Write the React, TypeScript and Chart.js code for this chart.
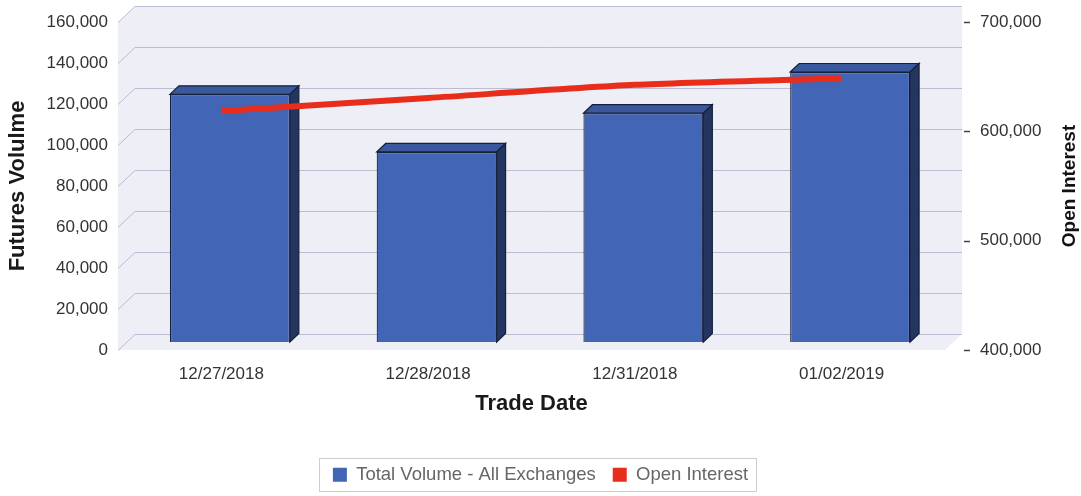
import React, { useEffect, useRef } from 'react';
import { Chart, registerables } from 'chart.js';

Chart.register(...registerables);

const categories = ['12/27/2018', '12/28/2018', '12/31/2018', '01/02/2019'];
const totalVolume = [120800, 92700, 111600, 131700];
const openInterest = [618500, 630500, 642500, 648500];
const volumeAxis = { min: 0, max: 160000, step: 20000 };
const oiAxis = { min: 400000, max: 700000, step: 100000 };

const FONT = "'Liberation Sans', Arial, Helvetica, sans-serif";
const BAR_FRONT = 'rgb(66, 101, 182)';
const BAR_TOP = 'rgb(58, 88, 158)';
const BAR_SIDE = 'rgb(36, 54, 96)';
const BAR_EDGE = 'rgb(22, 32, 58)';
const RED = 'rgb(232, 46, 26)';
const WALL = 'rgb(237, 238, 246)';
const GRID = 'rgb(188, 188, 212)';

// 3D geometry (pixels)
const DEPTH_X = 17;
const DEPTH_Y = -16;
const BAR_SHIFT_X = 8.5;
const BAR_SHIFT_Y = -8;
const BAR_DEPTH_X = 9;
const BAR_DEPTH_Y = -8.5;

const threeD = {
  id: 'threeD',
  beforeDatasetsDraw(chart: any) {
    const { ctx, chartArea } = chart;
    const L = chartArea.left, R = chartArea.right, T = chartArea.top, B = chartArea.bottom;
    ctx.save();
    ctx.beginPath();
    ctx.moveTo(L, B);
    ctx.lineTo(L, T);
    ctx.lineTo(L + DEPTH_X, T + DEPTH_Y);
    ctx.lineTo(R + DEPTH_X, T + DEPTH_Y);
    ctx.lineTo(R + DEPTH_X, B + DEPTH_Y);
    ctx.lineTo(R, B);
    ctx.closePath();
    ctx.fillStyle = WALL;
    ctx.fill();
    const y = chart.scales.y;
    ctx.strokeStyle = GRID;
    ctx.lineWidth = 1;
    y.ticks.forEach((t: any) => {
      const yy = Math.round(y.getPixelForValue(t.value)) + 0.5;
      ctx.beginPath();
      ctx.moveTo(L, yy);
      ctx.lineTo(L + DEPTH_X, yy + DEPTH_Y);
      ctx.lineTo(R + DEPTH_X, yy + DEPTH_Y);
      ctx.stroke();
    });
    ctx.restore();
  },
  beforeDatasetDraw(chart: any, args: any) {
    if (args.index !== 0) return;
    chart.ctx.save();
    chart.ctx.translate(BAR_SHIFT_X, BAR_SHIFT_Y);
  },
  afterDatasetDraw(chart: any, args: any) {
    if (args.index !== 0) return;
    const ctx = chart.ctx;
    args.meta.data.forEach((el: any) => {
      const { x, y, base, width } = el.getProps(['x', 'y', 'base', 'width'], true);
      const l = x - width / 2;
      const r = x + width / 2;
      ctx.lineWidth = 1.2;
      ctx.strokeStyle = BAR_EDGE;
      // top face
      ctx.beginPath();
      ctx.moveTo(l, y);
      ctx.lineTo(l + BAR_DEPTH_X, y + BAR_DEPTH_Y);
      ctx.lineTo(r + BAR_DEPTH_X, y + BAR_DEPTH_Y);
      ctx.lineTo(r, y);
      ctx.closePath();
      ctx.fillStyle = BAR_TOP;
      ctx.fill();
      ctx.stroke();
      // right face
      ctx.beginPath();
      ctx.moveTo(r, y);
      ctx.lineTo(r + BAR_DEPTH_X, y + BAR_DEPTH_Y);
      ctx.lineTo(r + BAR_DEPTH_X, base + BAR_DEPTH_Y);
      ctx.lineTo(r, base);
      ctx.closePath();
      ctx.fillStyle = BAR_SIDE;
      ctx.fill();
      ctx.stroke();
    });
    ctx.restore();
  },
  afterDraw(chart: any) {
    const { ctx, chartArea } = chart;
    const y1 = chart.scales.y1;
    ctx.save();
    // right axis tick dashes
    ctx.strokeStyle = '#444';
    ctx.lineWidth = 1.5;
    y1.ticks.forEach((t: any) => {
      const yy = Math.round(y1.getPixelForValue(t.value)) + 0.5;
      ctx.beginPath();
      ctx.moveTo(chartArea.right + DEPTH_X + 2, yy);
      ctx.lineTo(chartArea.right + DEPTH_X + 8, yy);
      ctx.stroke();
    });
    // right axis title (reads bottom to top)
    ctx.translate(1070, (chartArea.top + chartArea.bottom) / 2);
    ctx.rotate(-Math.PI / 2);
    ctx.fillStyle = '#111';
    ctx.font = `bold 19px ${FONT}`;
    ctx.textAlign = 'center';
    ctx.textBaseline = 'middle';
    ctx.fillText('Open Interest', 0, 0);
    ctx.restore();
    // legend frame
    const lg = chart.legend;
    const hb = lg && lg.legendHitBoxes;
    if (hb && hb.length) {
      const last = hb[hb.length - 1];
      const x0 = hb[0].left - 14;
      const x1 = last.left + last.width + 8;
      const top = hb[0].top - 8;
      const bottom = hb[0].top + hb[0].height + 6;
      ctx.save();
      ctx.setLineDash([1, 1]);
      ctx.strokeStyle = '#9a9a9a';
      ctx.lineWidth = 1;
      ctx.strokeRect(Math.round(x0) + 0.5, Math.round(top) + 0.5, Math.round(x1 - x0), Math.round(bottom - top));
      ctx.restore();
    }
  },
};

export default function App() {
  const ref = useRef<HTMLCanvasElement | null>(null);
  useEffect(() => {
    if (!ref.current) return;
    const tickFont = { family: FONT, size: 17 };
    const chart = new Chart(ref.current, {
      type: 'bar',
      data: {
        labels: categories,
        datasets: [
          {
            type: 'bar',
            label: 'Total Volume - All Exchanges',
            data: totalVolume,
            yAxisID: 'y',
            backgroundColor: BAR_FRONT,
            borderColor: BAR_EDGE,
            borderWidth: 1.2,
            barPercentage: 0.58,
            categoryPercentage: 1,
            order: 2,
            clip: false,
          } as any,
          {
            type: 'line',
            label: 'Open Interest',
            data: openInterest,
            yAxisID: 'y1',
            borderColor: RED,
            backgroundColor: RED,
            borderWidth: 6,
            pointRadius: 0,
            tension: 0.25,
            borderCapStyle: 'butt',
            order: 1,
            clip: false,
          } as any,
        ],
      },
      options: {
        responsive: false,
        animation: false,
        devicePixelRatio: 1,
        layout: { padding: { top: 22, bottom: 2, left: 0, right: 0 } },
        scales: {
          x: {
            grid: { display: false, drawTicks: false },
            border: { display: false },
            ticks: { font: tickFont, color: '#333', padding: 14 },
            title: {
              display: true,
              text: 'Trade Date',
              color: '#1a1a1a',
              font: { family: FONT, size: 22, weight: 'bold' },
              padding: { top: 0, bottom: 31 },
            },
            afterFit: (s: any) => { s.height = 98.5; },
          },
          y: {
            position: 'left',
            min: volumeAxis.min,
            max: volumeAxis.max,
            grid: { display: false, drawTicks: false },
            border: { display: false },
            ticks: {
              stepSize: volumeAxis.step,
              font: tickFont,
              color: '#333',
              padding: 10,
              callback: (v: any) => Number(v).toLocaleString('en-US'),
            },
            title: {
              display: true,
              text: 'Futures Volulme',
              color: '#1a1a1a',
              font: { family: FONT, size: 22, weight: 'bold' },
              padding: { top: 5, bottom: 0 },
            },
            afterFit: (s: any) => { s.width = 118; },
          },
          y1: {
            position: 'right',
            min: oiAxis.min,
            max: oiAxis.max,
            grid: { display: false, drawTicks: true, tickLength: 25 },
            border: { display: false },
            ticks: {
              stepSize: oiAxis.step,
              font: tickFont,
              color: '#333',
              padding: 10,
              callback: (v: any) => Number(v).toLocaleString('en-US'),
            },
            afterFit: (s: any) => { s.width = 136; },
          },
        } as any,
        plugins: {
          legend: {
            position: 'bottom',
            labels: {
              font: { family: FONT, size: 18.5 },
              color: '#666',
              boxWidth: 14,
              boxHeight: 14,
              padding: 17,
              sort: (a: any, b: any) => a.datasetIndex - b.datasetIndex,
              generateLabels: (c: any) =>
                (Chart.defaults.plugins.legend.labels.generateLabels as any)(c).map((l: any) => ({
                  ...l,
                  lineWidth: 0,
                  strokeStyle: 'rgba(0,0,0,0)',
                })),
            },
          },
          tooltip: { enabled: false },
        },
      },
      plugins: [threeD],
    });
    return () => chart.destroy();
  }, []);
  return (
    <div style={{ position: 'fixed', left: 0, top: 0, width: 1081, height: 496, background: '#fff' }}>
      <canvas ref={ref} width={1081} height={496} style={{ display: 'block' }} />
    </div>
  );
}
